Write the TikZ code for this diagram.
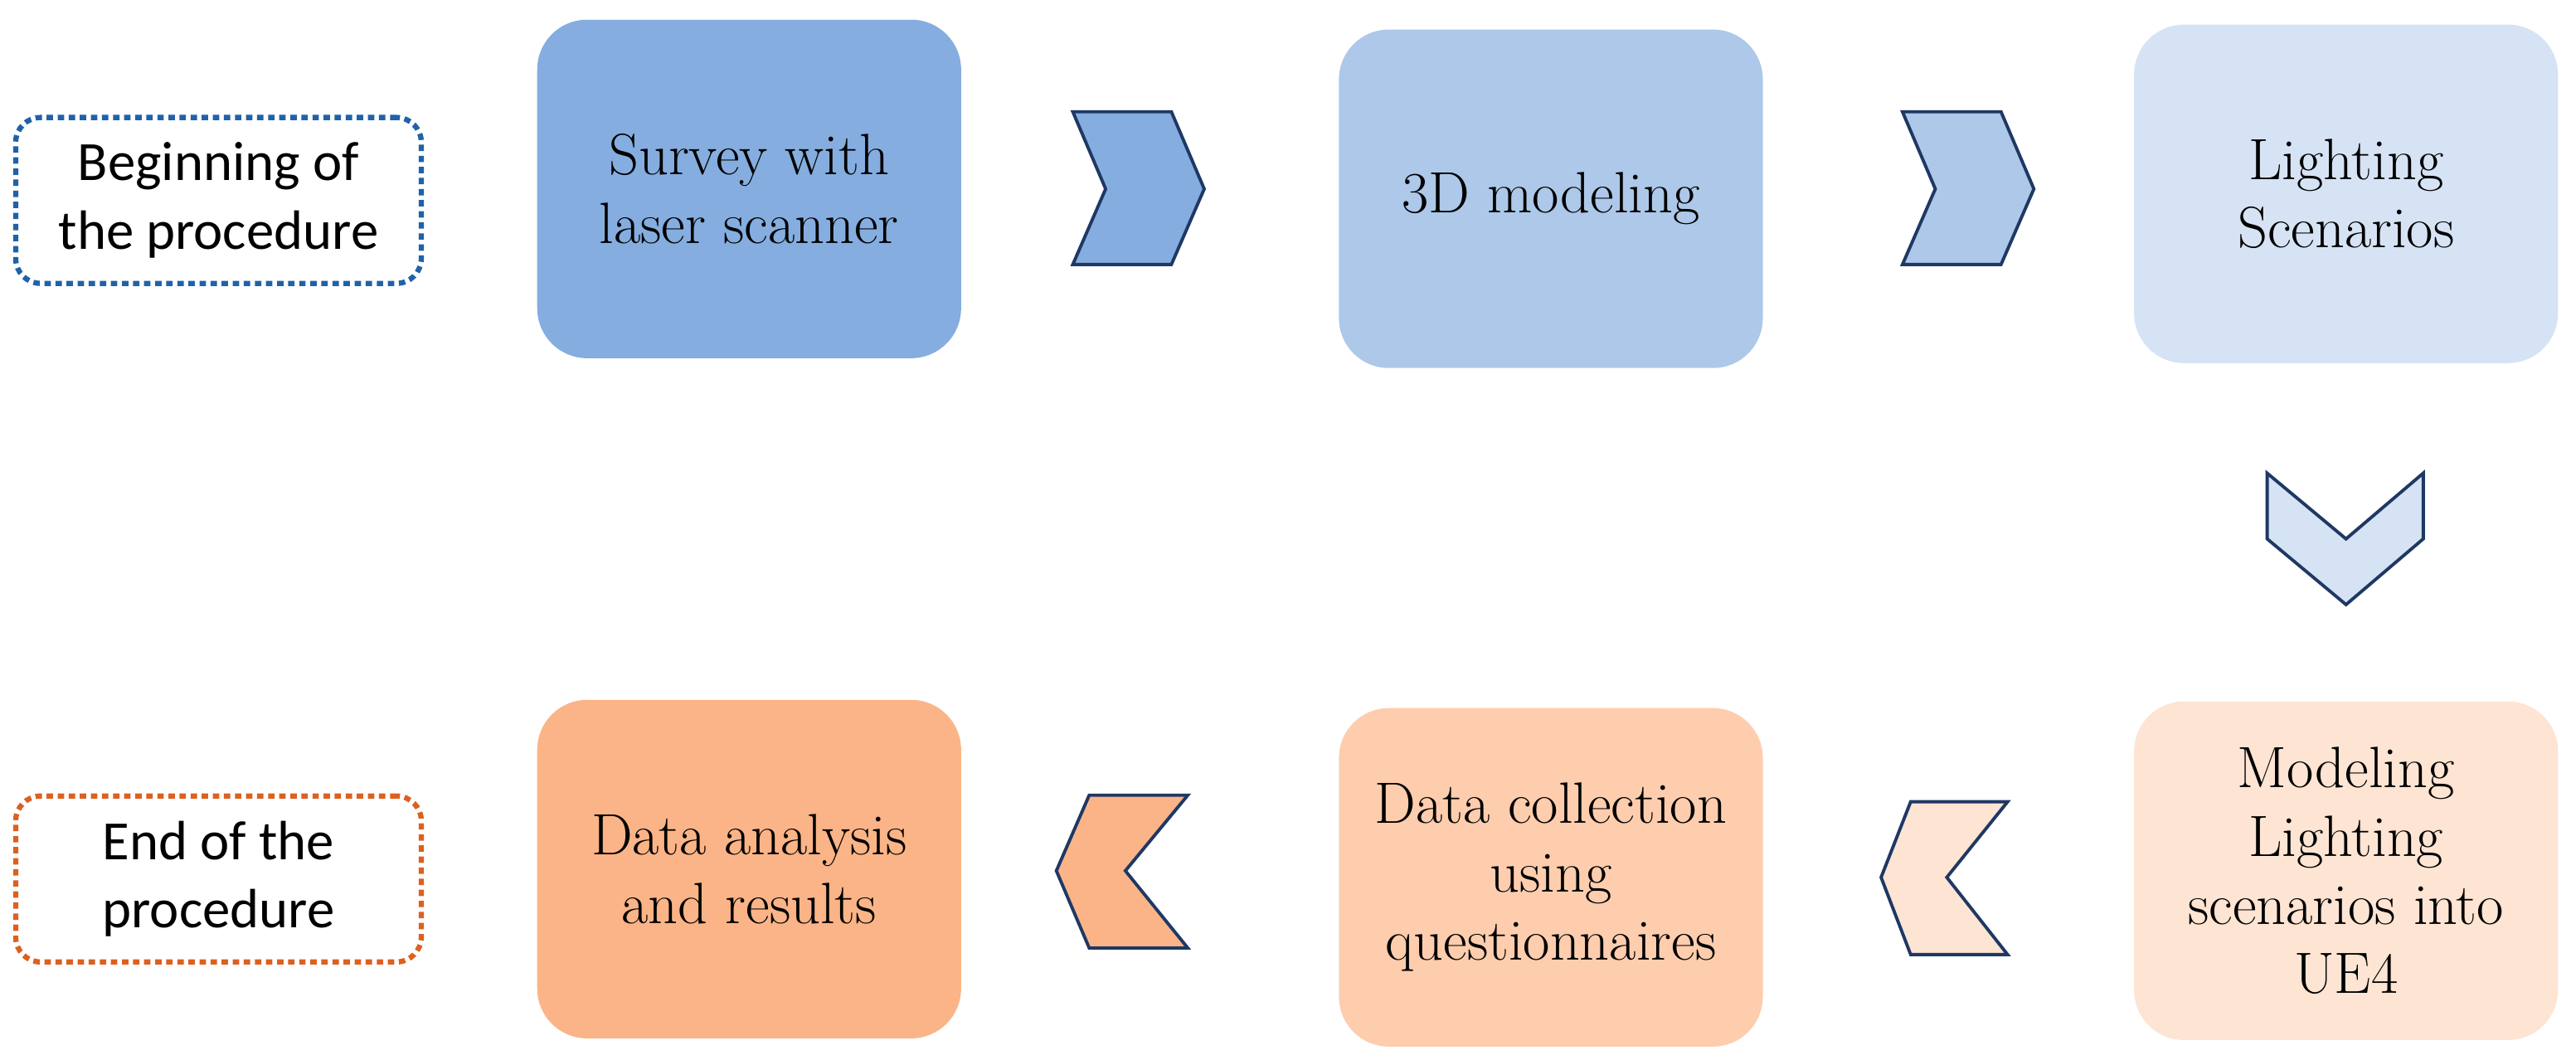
\documentclass[tikz,border=0pt]{standalone}
\usepackage{fontspec}
\setmainfont{Latin Modern Roman}
\newfontfamily\sansfont{Carlito}
\usetikzlibrary{positioning}

\definecolor{stepA}{HTML}{85ADDF}
\definecolor{stepB}{HTML}{ADC8E8}
\definecolor{stepC}{HTML}{D6E3F4}
\definecolor{stepD}{HTML}{FDE4D3}
\definecolor{stepE}{HTML}{FDCDAE}
\definecolor{stepF}{HTML}{FBB487}
\definecolor{navy}{HTML}{1F3864}
\definecolor{startblue}{HTML}{1F62A8}
\definecolor{endorange}{HTML}{DD6020}

\tikzset{
  stage/.style={rounded corners=0.6cm, minimum width=5.11cm, minimum height=4.08cm,
    align=center, font=\fontsize{20}{23.5}\selectfont, inner sep=0pt},
  terminal/.style={rounded corners=0.3cm, minimum width=4.89cm, minimum height=2cm,
    align=center, font=\sansfont\fontsize{19}{23.5}\selectfont, line width=1.8pt,
    dash pattern=on 2.2pt off 1.6pt},
  chevron/.style={draw=navy, line width=1.1pt, line join=miter}
}

\begin{document}
\begin{tikzpicture}[x=0.01981cm,y=-0.01981cm]
\useasboundingbox (0,0) rectangle (1568,645);

% top row
\node[terminal, draw=startblue] (begin) at (133,122) {Beginning of\\the procedure};
\node[stage, fill=stepA] (survey) at (456,115) {Survey with\\laser scanner};
\node[stage, fill=stepB] (model) at (944,121) {3D modeling};
\node[stage, fill=stepC] (light) at (1428,118) {Lighting\\Scenarios};

% bottom row
\node[stage, fill=stepD] (ue) at (1428,530) {Modeling\\Lighting\\scenarios into\\UE4};
\node[stage, fill=stepE] (collect) at (944,534) {Data collection\\using\\questionnaires};
\node[stage, fill=stepF] (analysis) at (456,529) {Data analysis\\and results};
\node[terminal, draw=endorange] (finish) at (133,535) {End of the\\procedure};

% chevrons
\draw[chevron, fill=stepA] (653,68) -- (713,68) -- (733,115) -- (713,161) -- (653,161) -- (673,115) -- cycle;
\draw[chevron, fill=stepB] (1158,68) -- (1218,68) -- (1238,115) -- (1218,161) -- (1158,161) -- (1178,115) -- cycle;
\draw[chevron, fill=stepC] (1380,288) -- (1428,328) -- (1475,288) -- (1475,328) -- (1428,368) -- (1380,328) -- cycle;
\draw[chevron, fill=stepD] (1222,488) -- (1163,488) -- (1145,534) -- (1163,581) -- (1222,581) -- (1185,534) -- cycle;
\draw[chevron, fill=stepF] (723,484) -- (663,484) -- (643,530) -- (663,577) -- (723,577) -- (685,530) -- cycle;

\end{tikzpicture}
\end{document}
